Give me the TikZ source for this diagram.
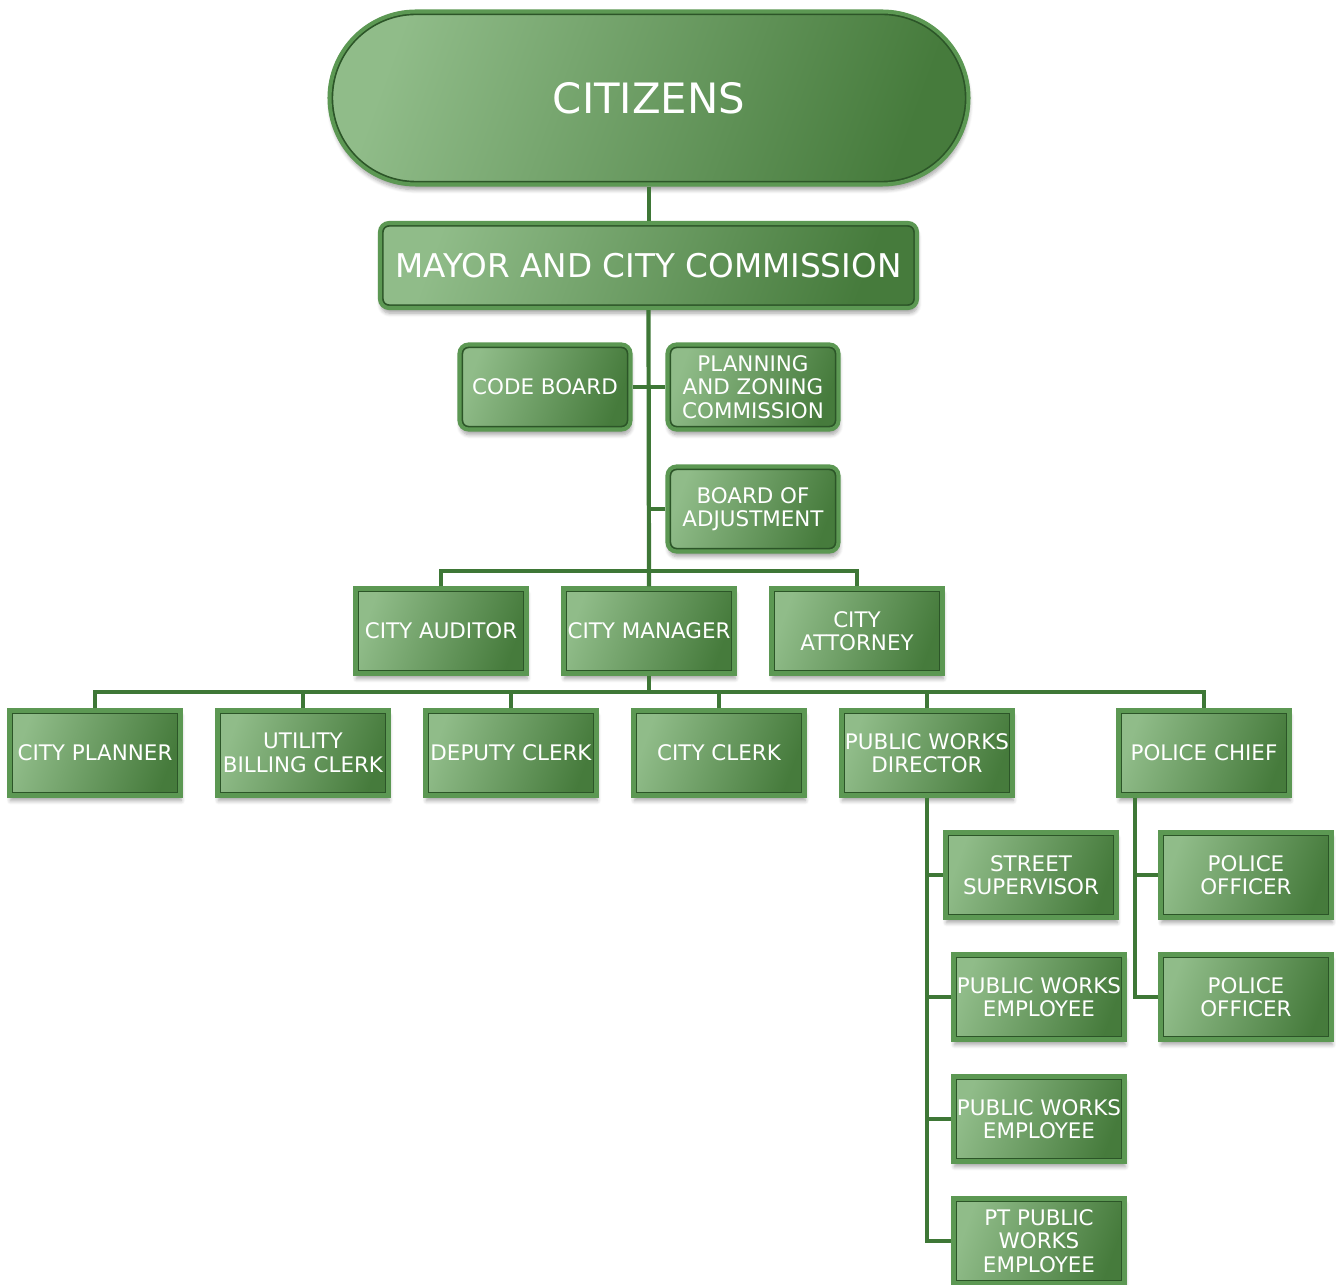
\documentclass[tikz,border=0pt]{standalone}
\usepackage{fontspec}
\setmainfont{DejaVu Sans}
\usepackage{tikz}
\usetikzlibrary{shadows.blur}
\definecolor{boxlight}{HTML}{90BC89}
\definecolor{boxdark}{HTML}{467B3C}
\definecolor{boxedge}{HTML}{5C9853}
\definecolor{boxdeep}{HTML}{2C5528}
\definecolor{linkgreen}{HTML}{3E7736}
\newcommand{\boxfont}{\fontsize{12.2}{13.4}\selectfont}

\tikzset{
  orgbox/.style={rectangle, minimum width=3.42cm, minimum height=1.7cm, inner sep=0pt,
    align=center, text=white, font=\boxfont, left color=boxlight, right color=boxdark,
    shading angle=70, draw=boxedge, line width=2.3pt,
    blur shadow={shadow xshift=0.5pt, shadow yshift=-3pt, shadow opacity=35, shadow blur steps=6},
    path picture={\draw[boxdeep,line width=4.2pt] (path picture bounding box.south west) rectangle (path picture bounding box.north east);}},
  roundbox/.style={orgbox, rounded corners=#1,
    path picture={\draw[boxdeep,line width=4.2pt,rounded corners=#1] (path picture bounding box.south west) rectangle (path picture bounding box.north east);}},
  roundbox/.default=0.18cm,
  link/.style={draw=linkgreen, line width=2.4pt}
}

\begin{document}
\begin{tikzpicture}
  \useasboundingbox (0,0) rectangle (26.72,-25.7);
  % top of the chart
  \node[roundbox=1.73cm, minimum width=12.78cm, minimum height=3.46cm, font=\fontsize{23.8}{26}\selectfont] (citizens) at (12.98,-1.96) {CITIZENS};
  \node[roundbox, minimum width=10.74cm, font=\fontsize{18.6}{20}\selectfont] (mayor) at (12.97,-5.31) {MAYOR AND CITY COMMISSION};
  \node[roundbox] (code) at (10.9,-7.74) {CODE BOARD};
  \node[roundbox] (plan) at (15.06,-7.74) {PLANNING\\AND ZONING\\COMMISSION};
  \node[roundbox] (adjust) at (15.06,-10.18) {BOARD OF\\ADJUSTMENT};
  % appointed officers
  \node[orgbox] (auditor) at (8.82,-12.62) {CITY AUDITOR};
  \node[orgbox] (manager) at (12.98,-12.62) {CITY MANAGER};
  \node[orgbox] (attorney) at (17.14,-12.62) {CITY\\ATTORNEY};
  % staff under the manager
  \node[orgbox] (planner) at (1.9,-15.06) {CITY PLANNER};
  \node[orgbox] (utility) at (6.06,-15.06) {UTILITY\\BILLING CLERK};
  \node[orgbox] (deputy) at (10.22,-15.06) {DEPUTY CLERK};
  \node[orgbox] (clerk) at (14.38,-15.06) {CITY CLERK};
  \node[orgbox] (pwdir) at (18.54,-15.06) {PUBLIC WORKS\\DIRECTOR};
  \node[orgbox] (chief) at (24.08,-15.06) {POLICE CHIEF};
  % public works and police
  \node[orgbox] (street) at (20.62,-17.5) {STREET\\SUPERVISOR};
  \node[orgbox] (pwemp1) at (20.78,-19.94) {PUBLIC WORKS\\EMPLOYEE};
  \node[orgbox] (pwemp2) at (20.78,-22.38) {PUBLIC WORKS\\EMPLOYEE};
  \node[orgbox] (ptemp) at (20.78,-24.82) {PT PUBLIC\\WORKS\\EMPLOYEE};
  \node[orgbox] (off1) at (24.92,-17.5) {POLICE\\OFFICER};
  \node[orgbox] (off2) at (24.92,-19.94) {POLICE\\OFFICER};

  \coordinate (bus1) at (12.98,-11.42);
  \coordinate (bus2) at (12.98,-13.84);
  \coordinate (ptrunk) at ([xshift=0.37cm]chief.south west);

  \draw[link] (citizens.south) -- (citizens.south |- mayor.north);
  \draw[link] (mayor.south) -- (manager.north);
  \draw[link] (code.east) -- (plan.west);
  \draw[link] (adjust.west) -- (adjust.west -| manager.north);
  \draw[link] (auditor.north) |- (bus1) -| (attorney.north);
  \draw[link] (manager.south) -- (bus2);
  \draw[link] (planner.north) |- (bus2) -| (chief.north);
  \foreach \n in {utility,deputy,clerk,pwdir}
    \draw[link] (\n.north) -- (\n.north |- bus2);
  \draw[link] (pwdir.south) |- (ptemp.west);
  \foreach \n in {street,pwemp1,pwemp2}
    \draw[link] (\n.west -| pwdir.south) -- (\n.west);
  \draw[link] (ptrunk) |- (off2.west);
  \draw[link] (off1.west -| ptrunk) -- (off1.west);
\end{tikzpicture}
\end{document}
